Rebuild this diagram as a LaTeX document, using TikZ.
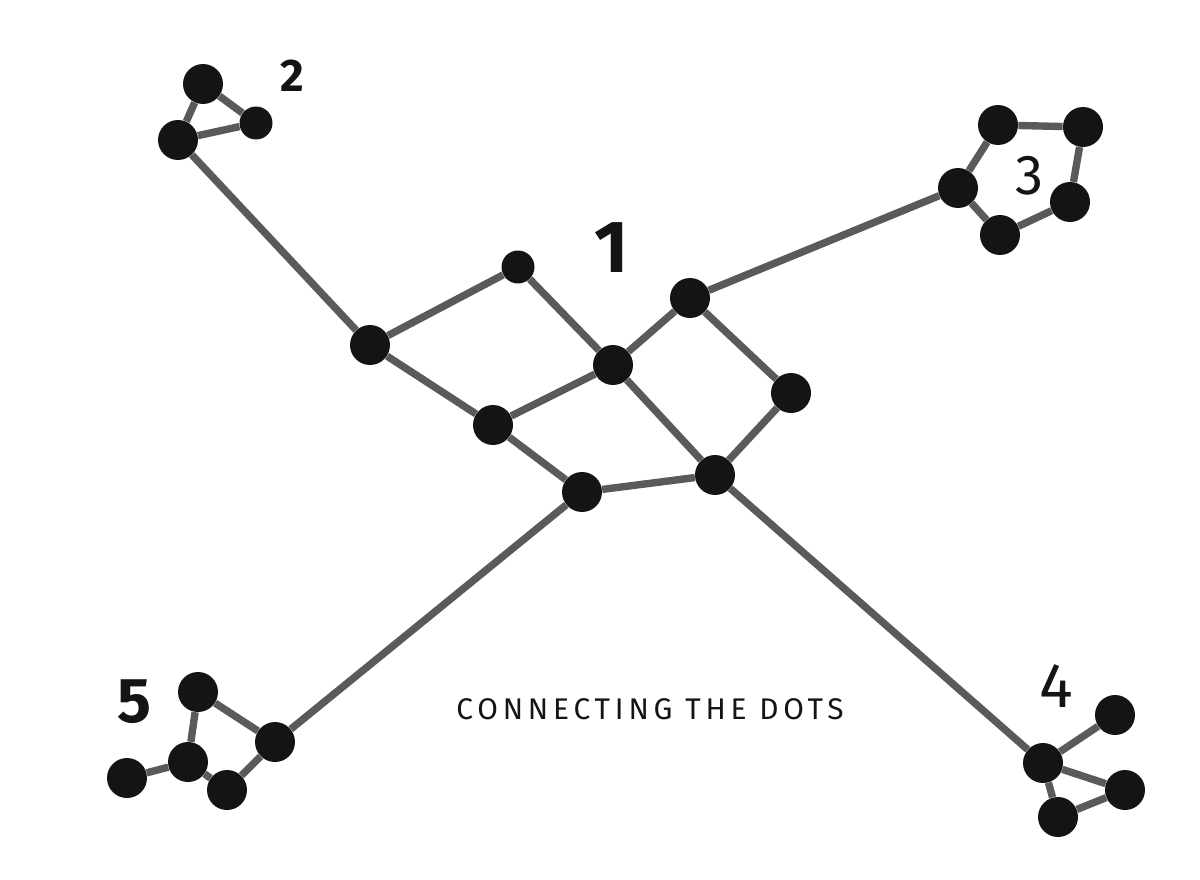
\documentclass[tikz,border=0pt]{standalone}
\usepackage{fontspec}
\setmainfont{Fira Sans}
\definecolor{dotblack}{RGB}{20,20,20}
\definecolor{linegray}{RGB}{90,90,90}
\usetikzlibrary{positioning}

\begin{document}
\begin{tikzpicture}[x=0.02cm, y=-0.02cm,
  dot/.style={circle, fill=dotblack, inner sep=0pt, minimum size=0.8cm},
  smalldot/.style={circle, fill=dotblack, inner sep=0pt, minimum size=0.66cm},
  link/.style={draw=linegray, line width=4.2pt},
  num/.style={font=\fontsize{30}{30}\selectfont, text=dotblack}
]
  \useasboundingbox[fill=white] (0,0) rectangle (1200,879);

  %% Central cluster 1
  \node[dot] (a) at (370,345) {};
  \node[smalldot] (b) at (518,267) {};
  \node[dot] (c) at (613,365) {};
  \node[dot] (d) at (690,298) {};
  \node[dot] (e) at (791,393) {};
  \node[dot] (f) at (493,425) {};
  \node[dot] (g) at (582,492) {};
  \node[dot] (h) at (715,475) {};
  \node[num, font=\fontsize{42}{42}\selectfont\bfseries] (one) at (612,248) {1};

  \draw[link] (a) -- (b);
  \draw[link] (b) -- (c);
  \draw[link] (a) -- (f);
  \draw[link] (f) -- (c);
  \draw[link] (c) -- (d);
  \draw[link] (d) -- (e);
  \draw[link] (e) -- (h);
  \draw[link] (c) -- (h);
  \draw[link] (f) -- (g);
  \draw[link] (g) -- (h);

  %% Cluster 2 (top left)
  \node[dot] (tl1) at (203,84) {};
  \node[smalldot] (tl2) at (256,123) {};
  \node[dot] (tl3) at (178,140) {};
  \node[num, font=\fontsize{26}{26}\selectfont\bfseries] (two) at (292,76) {2};
  \draw[link] (tl1) -- (tl2);
  \draw[link] (tl1) -- (tl3);
  \draw[link] (tl3) -- (tl2);
  \draw[link] (tl3) -- (a);

  %% Cluster 3 (top right)
  \node[dot] (tr1) at (958,188) {};
  \node[dot] (tr2) at (998,125) {};
  \node[dot] (tr3) at (1083,127) {};
  \node[dot] (tr4) at (1070,202) {};
  \node[dot] (tr5) at (1000,235) {};
  \node[num, font=\fontsize{32}{32}\selectfont] (three) at (1030,176) {3};
  \draw[link] (tr1) -- (tr2);
  \draw[link] (tr2) -- (tr3);
  \draw[link] (tr3) -- (tr4);
  \draw[link] (tr4) -- (tr5);
  \draw[link] (tr5) -- (tr1);
  \draw[link] (tr1) -- (d);

  %% Cluster 4 (bottom right)
  \node[dot] (br1) at (1043,763) {};
  \node[dot] (br2) at (1115,715) {};
  \node[dot] (br3) at (1125,790) {};
  \node[dot] (br4) at (1058,817) {};
  \node[num, font=\fontsize{36}{36}\selectfont] (four) at (1056,686) {4};
  \draw[link] (br1) -- (br2);
  \draw[link] (br1) -- (br3);
  \draw[link] (br1) -- (br4);
  \draw[link] (br4) -- (br3);
  \draw[link] (br1) -- (h);

  %% Cluster 5 (bottom left)
  \node[dot] (bl1) at (198,692) {};
  \node[dot] (bl2) at (188,762) {};
  \node[dot] (bl3) at (127,778) {};
  \node[dot] (bl4) at (227,790) {};
  \node[dot] (bl5) at (275,742) {};
  \node[num, font=\fontsize{36}{36}\selectfont\bfseries] (five) at (134,702) {5};
  \draw[link] (bl1) -- (bl2);
  \draw[link] (bl1) -- (bl5);
  \draw[link] (bl2) -- (bl3);
  \draw[link] (bl2) -- (bl4);
  \draw[link] (bl4) -- (bl5);
  \draw[link] (bl5) -- (g);

  %% Caption
  \node[font=\fontsize{17}{17}\selectfont\addfontfeature{LetterSpace=16}, text=dotblack] (caption) at (650,709) {CONNECTING THE DOTS};
\end{tikzpicture}
\end{document}
